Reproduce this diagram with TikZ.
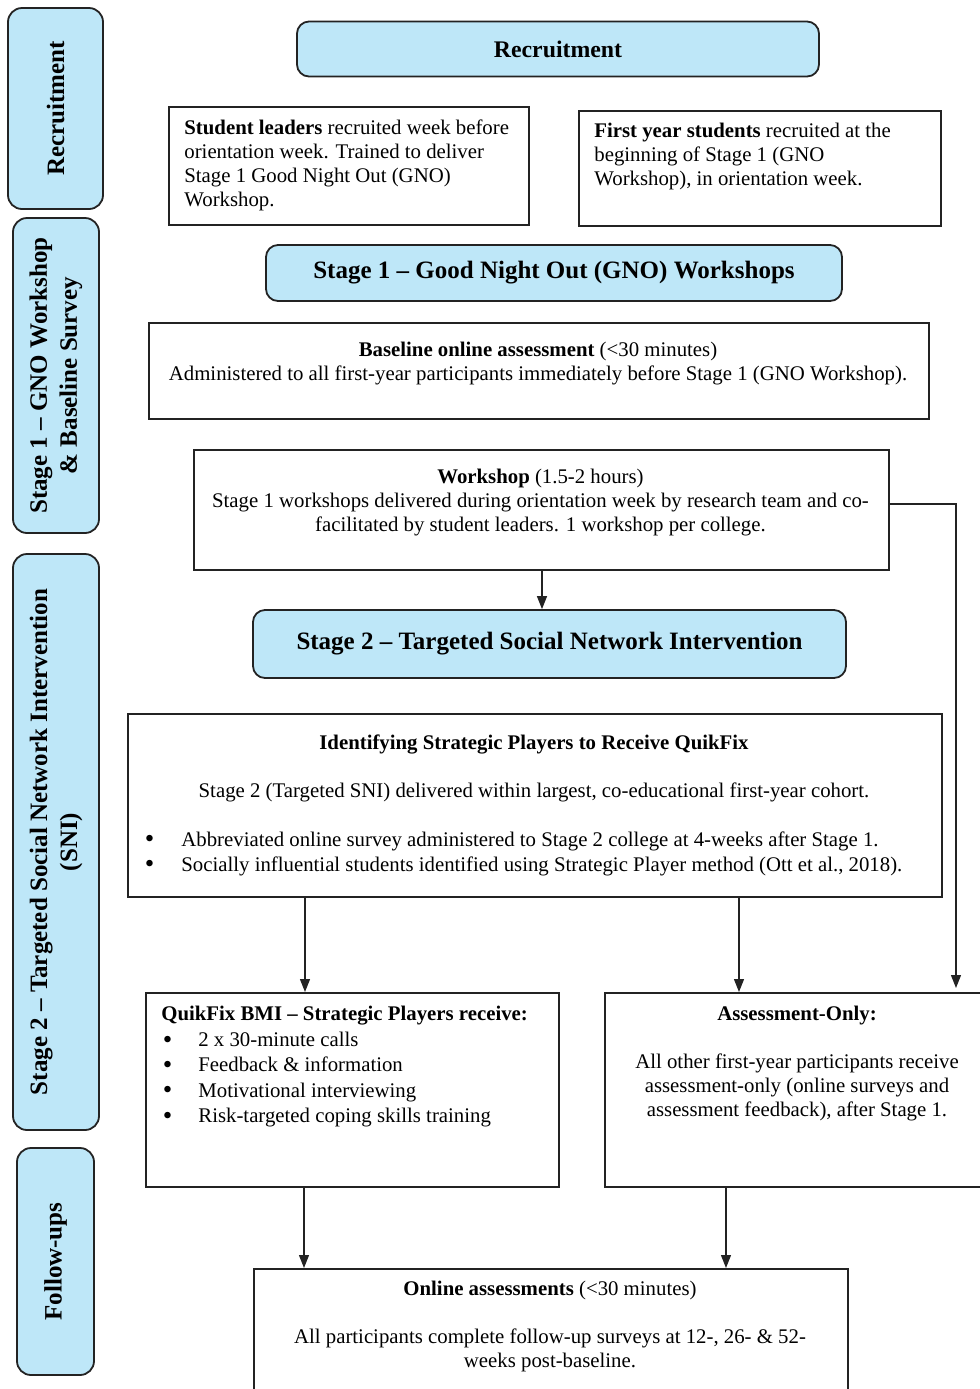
\documentclass[tikz,border=0pt]{standalone}
\usepackage{fontspec}
\setmainfont{Liberation Serif}
\usetikzlibrary{arrows.meta}
\definecolor{lblue}{RGB}{190,231,248}
\definecolor{edge}{RGB}{35,35,35}
\newcommand{\mybul}{\raisebox{-0.2ex}{\scalebox{1.3}{\textbullet}}}
\begin{document}
\begin{tikzpicture}[x=0.5pt,y=-0.5pt,
 side/.style={draw=edge, line width=0.9pt, fill=lblue, rounded corners=7pt, rotate=90, font=\fontsize{12.5}{15}\selectfont\bfseries, align=center, inner sep=0pt},
 head/.style={draw=edge, line width=0.9pt, fill=lblue, rounded corners=6pt, font=\fontsize{12.5}{15}\selectfont\bfseries, inner sep=0pt},
 box/.style={draw=edge, line width=0.8pt, anchor=north west, inner sep=0pt},
 txt/.style={font=\fontsize{10.4}{12}\selectfont, inner sep=0pt, align=center, anchor=north},
 conn/.style={draw=edge, line width=0.6pt, -{Triangle[width=5pt,length=6.5pt]}}]
\useasboundingbox (0,0) rectangle (980,1389);
\clip (0,0) rectangle (980,1389);

% side labels
\node[side, minimum width=100.5pt, minimum height=47.5pt] (sR) at (55.5,108.5) {Recruitment};
\node[side, minimum width=157.5pt, minimum height=43pt] (s1) at (56,375.5) {Stage 1 – GNO Workshop\\\& Baseline Survey};
\node[side, minimum width=288pt, minimum height=43pt] (s2) at (56,842) {Stage 2 – Targeted Social Network Intervention\\(SNI)};
\node[side, minimum width=113.5pt, minimum height=38.5pt] (sF) at (55.5,1261.5) {Follow-ups};

% headers
\node[head, minimum width=261pt, minimum height=27.5pt, font=\fontsize{11.9}{15}\selectfont\bfseries] (h1) at (558,49) {Recruitment};
\node[head, minimum width=288pt, minimum height=28pt] (h2) at (554,273) {Stage 1 – Good Night Out (GNO) Workshops};
\node[head, minimum width=296.5pt, minimum height=34pt] (h3) at (549.5,644) {Stage 2 – Targeted Social Network Intervention};

% recruitment boxes
\node[box, minimum width=180pt, minimum height=59pt] (sl) at (168,106) {};
\node[txt, anchor=north west, align=left] (slt) at (184,119) {\textbf{Student leaders} recruited week before\\orientation week. Trained to deliver\\Stage 1 Good Night Out (GNO)\\Workshop.};
\node[box, minimum width=181pt, minimum height=57.5pt] (fy) at (578,110) {};
\node[txt, anchor=north west, align=left] (fyt) at (594,123) {\textbf{First year students} recruited at the\\beginning of Stage 1 (GNO\\Workshop), in orientation week.};

% stage 1
\node[box, minimum width=390pt, minimum height=48pt] (bl) at (148,322) {};
\node[txt] (blt) at (538,342) {\textbf{Baseline online assessment} (<30 minutes)\\Administered to all first-year participants immediately before Stage 1 (GNO Workshop).};
\node[box, minimum width=347.5pt, minimum height=60pt] (wk) at (193,449) {};
\node[txt] (wkt) at (540.5,469) {\textbf{Workshop} (1.5-2 hours)\\Stage 1 workshops delivered during orientation week by research team and co-\\facilitated by student leaders. 1 workshop per college.};

% stage 2
\node[box, minimum width=407pt, minimum height=91.5pt] (id) at (127,713) {};
\node[txt] (idt) at (534,734) {\textbf{Identifying Strategic Players to Receive QuikFix}\\[12pt]Stage 2 (Targeted SNI) delivered within largest, co-educational first-year cohort.};
\node[txt, anchor=north west, align=left, font=\fontsize{10.4}{12.5}\selectfont] (idb) at (144.5,831) {\makebox[18.25pt][l]{\mybul}Abbreviated online survey administered to Stage 2 college at 4-weeks after Stage 1.\\\makebox[18.25pt][l]{\mybul}Socially influential students identified using Strategic Player method (Ott et al., 2018).};

\node[box, minimum width=206.5pt, minimum height=97pt] (qf) at (145,992) {};
\node[txt, anchor=north west, align=left, font=\fontsize{10.4}{12.7}\selectfont] (qft) at (161,1006) {\textbf{QuikFix BMI – Strategic Players receive:}\\\hspace*{0.75pt}\makebox[17.75pt][l]{\mybul}2 x 30-minute calls\\\hspace*{0.75pt}\makebox[17.75pt][l]{\mybul}Feedback \& information\\\hspace*{0.75pt}\makebox[17.75pt][l]{\mybul}Motivational interviewing\\\hspace*{0.75pt}\makebox[17.75pt][l]{\mybul}Risk-targeted coping skills training};

\node[box, minimum width=193pt, minimum height=97pt] (as) at (604,992) {};
\node[txt] (ast) at (797,1006) {\textbf{Assessment-Only:}\\[12pt]All other first-year participants receive\\assessment-only (online surveys and\\assessment feedback), after Stage 1.};

% follow-ups
\node[box, minimum width=297pt, minimum height=70pt] (on) at (253,1268) {};
\node[txt] (ont) at (550,1281) {\textbf{Online assessments} (<30 minutes)\\[12pt]All participants complete follow-up surveys at 12-, 26- \& 52-\\weeks post-baseline.};

% connectors
\draw[conn] (wk.south -| 542,0) -- (h3.north -| 542,0);
\draw[conn, shorten >=2pt] (wk.east |- 0,504) -| (as.north -| 956,0);
\draw[conn] (id.south -| 305,0) -- (qf.north -| 305,0);
\draw[conn] (id.south -| 739,0) -- (as.north -| 739,0);
\draw[conn] (qf.south -| 304,0) -- (on.north -| 304,0);
\draw[conn] (as.south -| 726,0) -- (on.north -| 726,0);
\end{tikzpicture}
\end{document}
